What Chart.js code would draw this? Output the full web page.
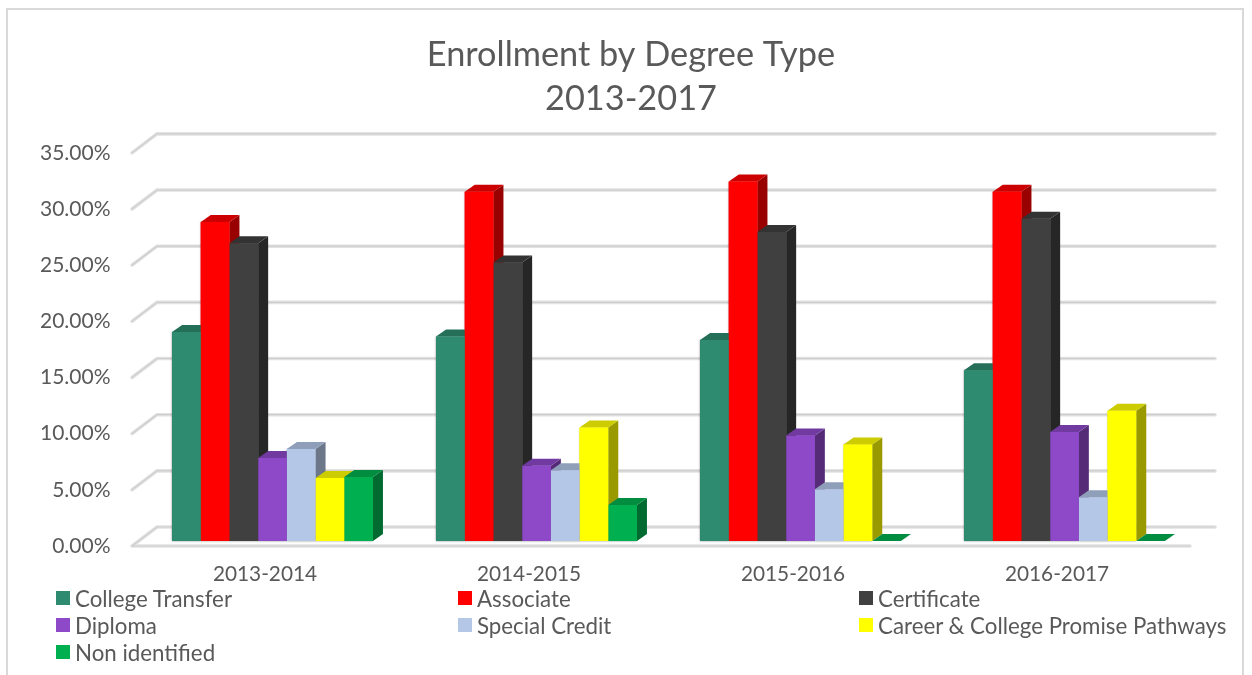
<!DOCTYPE html>
<html><head><meta charset="utf-8">
<script src="https://cdn.jsdelivr.net/npm/chart.js@4"></script>
<style>
html,body{margin:0;padding:0;background:#fff;overflow:hidden;width:1252px;height:675px;}
#wrap{position:relative;width:1252px;height:675px;}
#c{position:absolute;left:0;top:0;}
#frame{position:absolute;left:6px;top:8px;width:1238px;height:680px;border:2px solid #d9d9d9;box-sizing:border-box;}
.lg{position:absolute;font:22.3px Lato,sans-serif;color:#595959;white-space:nowrap;line-height:26px;}
.lg i{position:absolute;left:-19px;top:5px;width:14px;height:14px;}
</style></head>
<body><div id="wrap"><div id="frame"></div><canvas id="c" width="1252" height="675"></canvas></div>
<script>
const categories = ['2013-2014','2014-2015','2015-2016','2016-2017'];
const seriesNames = ['College Transfer','Associate','Certificate','Diploma','Special Credit','Career & College Promise Pathways','Non identified'];
const collegeTransfer = [18.6,18.2,17.9,15.2];
const associate = [28.4,31.1,32.0,31.1];
const certificate = [26.5,24.8,27.5,28.7];
const diploma = [7.4,6.7,9.4,9.7];
const specialCredit = [8.2,6.3,4.6,3.9];
const careerCollege = [5.6,10.1,8.6,11.6];
const nonIdentified = [5.7,3.2,0,0];
const seriesValues = [collegeTransfer,associate,certificate,diploma,specialCredit,careerCollege,nonIdentified];
const frontColors = ['#2E8B6F','#FF0000','#404040','#8E49C9','#B4C7E7','#FFFF00','#00B050'];
const topColors = ['#256F59','#CC0000','#333333','#713AA1','#8F9FB9','#CCCC00','#008D40'];
const sideColors = ['#1C5343','#990000','#262626','#552B78','#6C778A','#999900','#006A30'];
const legendX = [75,477,878];
const legendY = [586,613,640];

const DX = 10, DY = 7;
const bars3d = {
  id:'bars3d',
  beforeDraw(chart){
    const {ctx,chartArea:a,scales:{y}} = chart;
    const fx=a.left-8.5, bx=a.left+16.5, rx=a.right+18.5, ffx=a.right-6.5, off=5, back=14;
    ctx.save();
    ctx.lineCap='round';
    const pass=(w,col)=>{
      ctx.lineWidth=w; ctx.strokeStyle=col;
      y.ticks.forEach(t=>{
        const p=y.getPixelForValue(t.value);
        ctx.beginPath();
        ctx.moveTo(fx,p+off); ctx.lineTo(bx,p-back); ctx.lineTo(rx,p-back);
        if(t.value===0){ctx.moveTo(fx,p+off); ctx.lineTo(ffx,p+off);}
        ctx.stroke();
      });
    };
    pass(3.6,'#e2e2e2'); pass(1.2,'#cdcdcd');
    ctx.restore();
  },
  beforeDatasetsDraw(chart){
    const {ctx} = chart;
    const metas = seriesValues.map((_,i)=>chart.getDatasetMeta(i));
    ctx.save();
    ctx.shadowColor='rgba(0,0,0,0.45)'; ctx.shadowBlur=2;
    metas.forEach((m,i)=>m.data.forEach(b=>{
      const r=b.getProps(['x','y','base','width'],true);
      if(r.base-r.y<1) return;
      ctx.fillStyle=frontColors[i];
      ctx.fillRect(r.x-r.width/2,r.y,r.width,r.base-r.y);
    }));
    ctx.restore();
    metas.forEach((m,i)=>m.data.forEach(b=>{
      const r=b.getProps(['x','y','base','width'],true);
      const L=r.x-r.width/2,R=r.x+r.width/2;
      ctx.fillStyle=sideColors[i];
      ctx.beginPath();ctx.moveTo(R,r.y);ctx.lineTo(R+DX,r.y-DY);ctx.lineTo(R+DX,r.base-DY);ctx.lineTo(R,r.base);ctx.closePath();ctx.fill();
      ctx.fillStyle=topColors[i];
      ctx.beginPath();ctx.moveTo(L,r.y);ctx.lineTo(L+DX,r.y-DY);ctx.lineTo(R+DX,r.y-DY);ctx.lineTo(R,r.y);ctx.closePath();ctx.fill();
    }));
  },
  afterLayout(chart){
    const t=chart.titleBlock; t.left=0; t.right=1262;
  }
};

new Chart(document.getElementById('c'),{
  type:'bar',
  data:{labels:categories,datasets:seriesNames.map((n,i)=>({label:n,data:seriesValues[i],backgroundColor:frontColors[i],borderWidth:0}))},
  options:{
    responsive:false,animation:false,
    categoryPercentage:0.761,barPercentage:1,
    layout:{padding:{left:0,right:55.5,top:0,bottom:0}},
    plugins:{
      legend:{display:false},tooltip:{enabled:false},
      title:{display:true,text:['Enrollment by Degree Type','2013-2017'],color:'#595959',
        font:{family:'Lato',size:34.3,weight:'normal',lineHeight:1.31},padding:{top:32,bottom:26}}
    },
    scales:{
      x:{grid:{display:false},border:{display:false},
        ticks:{color:'#595959',font:{family:'Lato',size:20.8},padding:13,labelOffset:-7.5,maxRotation:0},
        afterFit(s){s.height=134;}},
      y:{min:0,max:35,grid:{display:false},border:{display:false},
        ticks:{stepSize:5,color:'#595959',font:{family:'Lato',size:21},padding:22,labelOffset:5,
          callback:v=>v.toFixed(2)+'%'},
        afterFit(s){s.width=140.5;}}
    }
  },
  plugins:[bars3d]
});
const wrap=document.getElementById('wrap');
seriesNames.forEach((n,i)=>{
  const d=document.createElement('div');d.className='lg';
  d.style.left=legendX[i%3]+'px';d.style.top=legendY[Math.floor(i/3)]+'px';
  const sw=document.createElement('i');sw.style.background=frontColors[i];d.appendChild(sw);
  d.appendChild(document.createTextNode(n));wrap.appendChild(d);
});
</script></body></html>
